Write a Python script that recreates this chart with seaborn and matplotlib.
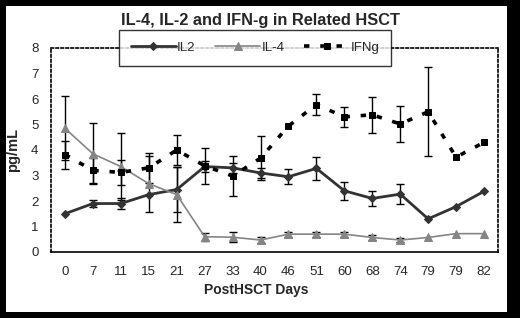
import numpy as np
import pandas as pd
import matplotlib
matplotlib.use("Agg")
import matplotlib.pyplot as plt
from matplotlib.patches import Rectangle
import seaborn as sns

# ## Data

days = ["0", "7", "11", "15", "21", "27", "33", "40", "46", "51", "60", "68", "74", "79", "79", "82"]

il2 = [1.5, 1.9, 1.9, 2.25, 2.45, 3.35, 3.3, 3.1, 2.95, 3.28, 2.4, 2.1, 2.27, 1.3, 1.78, 2.38]
il2_err = [0, 0.15, 0.2, 0, 0.9, 0.2, 0.2, 0.2, 0.3, 0.45, 0.35, 0.3, 0.4, 0, 0, 0]

il4 = [4.85, 3.85, 3.35, 2.68, 2.25, 0.6, 0.58, 0.47, 0.7, 0.7, 0.7, 0.57, 0.47, 0.57, 0.72, 0.72]
il4_err = [1.25, 1.2, 1.3, 1.1, 1.07, 0.15, 0.2, 0.1, 0.1, 0.1, 0.1, 0.08, 0.08, 0, 0, 0]

ifng = [3.82, 3.2, 3.12, 3.3, 4.0, 3.38, 2.98, 3.68, 4.94, 5.78, 5.3, 5.38, 5.02, 5.5, 3.72, 4.3]
ifng_err = [0.55, 0.5, 0.5, 0.6, 0.6, 0.7, 0.8, 0.85, 0, 0.4, 0.4, 0.7, 0.7, 1.75, 0, 0]

pos = np.arange(len(days))
df = pd.DataFrame({"pos": pos, "IL2": il2, "IL-4": il4, "IFNg": ifng})

# ## Plot

sns.set_style("white")
plt.rcParams["font.family"] = ["Liberation Sans", "DejaVu Sans"]

fig = plt.figure(figsize=(5.2, 3.18), dpi=100, facecolor="black")
fig.patches.append(Rectangle((6 / 520, 6 / 318), 501 / 520, 306 / 318,
                             transform=fig.transFigure, facecolor="white",
                             edgecolor="none", zorder=-10))
ax = fig.add_axes([51 / 520, 1 - 252 / 318, 447 / 520, 204 / 318])
ax.set_facecolor("white")

styles = {
    "IL2": dict(color="#333333", lw=2.0, marker="D", ms=4, ls="-"),
    "IL-4": dict(color="#858585", lw=1.2, marker="^", ms=5.5, ls="-"),
    "IFNg": dict(color="black", lw=2.6, marker="s", ms=5, ls=(0, (1.5, 3.0))),
}
errs = {"IL2": il2_err, "IL-4": il4_err, "IFNg": ifng_err}

for name, st in styles.items():
    sns.lineplot(data=df, x="pos", y=name, ax=ax, color=st["color"], lw=st["lw"],
                 marker=st["marker"], markersize=st["ms"], linestyle=st["ls"],
                 markeredgecolor=st["color"], label=name, zorder=3)
    e = np.array(errs[name])
    m = e > 0
    ax.errorbar(pos[m], np.array(df[name])[m], yerr=e[m], fmt="none",
                ecolor="black", elinewidth=1.0, capsize=3, capthick=1.0, zorder=2)

ax.set_xlim(-0.5, len(days) - 0.5)
ax.set_ylim(0, 8)
ax.set_yticks(range(0, 9))
ax.set_xticks(np.arange(-0.5, len(days), 1.0))
ax.set_xticklabels([])
ax.set_xticks(pos, minor=True)
ax.set_xticklabels(days, minor=True)
ax.tick_params(axis="x", which="major", direction="out", length=4, width=1, color="black")
ax.tick_params(axis="x", which="minor", length=0, labelsize=9.5, pad=10)
ax.tick_params(axis="y", direction="out", length=4, width=1, color="black", labelsize=9.5, pad=5)

for side in ["top", "right", "left"]:
    ax.spines[side].set_linestyle((0, (1.5, 1.5)))
    ax.spines[side].set_color("black")
    ax.spines[side].set_linewidth(1.2)
ax.spines["bottom"].set_color("black")
ax.spines["bottom"].set_linewidth(1.2)

ax.set_xlabel("PostHSCT Days", fontsize=10, fontweight="bold")
ax.xaxis.set_label_coords((256 - 51) / 447, -(283 - 252) / 204)
ax.set_ylabel("pg/mL", fontsize=10.5, fontweight="bold")
ax.yaxis.set_label_coords(-(51 - 20) / 447, 0.5)
fig.text(0.5, 1 - 21 / 318, "IL-4, IL-2 and IFN-g in Related HSCT",
         ha="center", va="center", fontsize=11.8, fontweight="bold")

leg = ax.legend(loc="center", bbox_to_anchor=((255 - 51) / 447, 1.0), ncol=3, frameon=True,
                fancybox=False, fontsize=9.5, handlelength=3.4, columnspacing=1.5,
                handletextpad=0.1, borderpad=0.9, borderaxespad=0)
leg.get_frame().set_edgecolor("black")
leg.get_frame().set_linewidth(1.0)
leg.set_zorder(5)

fig.savefig("out.png", dpi=100, facecolor=fig.get_facecolor())
